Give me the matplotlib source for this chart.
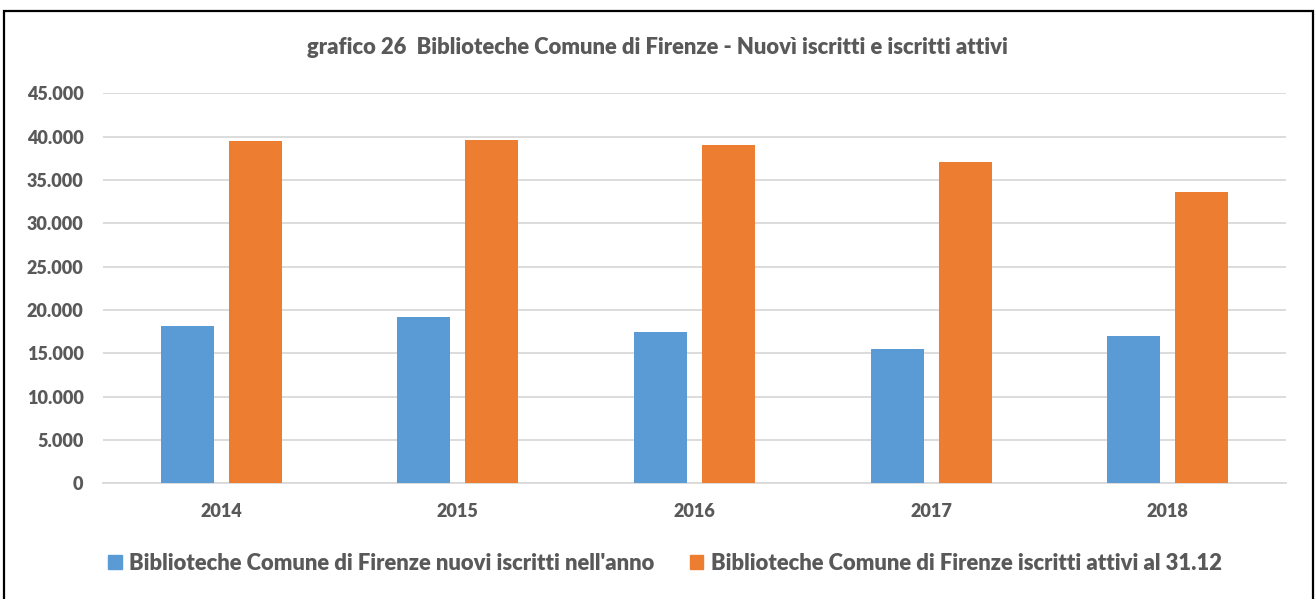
import matplotlib
matplotlib.use("Agg")
import matplotlib.pyplot as plt
from matplotlib.patches import Rectangle, Patch
from matplotlib.ticker import FuncFormatter
import numpy as np

years = ["2014", "2015", "2016", "2017", "2018"]
nuovi = [18150, 19150, 17450, 15450, 17000]
attivi = [39500, 39650, 39000, 37050, 33600]
series_names = ["Biblioteche Comune di Firenze nuovi iscritti nell'anno",
                "Biblioteche Comune di Firenze iscritti attivi al 31.12"]
title = "grafico 26  Biblioteche Comune di Firenze - Nuovì iscritti e iscritti attivi"

BLUE = "#5B9BD5"
ORANGE = "#ED7D31"
GRAY = "#595959"
GRID = "#D9D9D9"
FONT = ["Lato", "DejaVu Sans"]

W, H = 1315, 599
fig = plt.figure(figsize=(W / 100, H / 100), dpi=100)
fig.patch.set_facecolor("white")

left, right, top, bottom = 103, 1286, 93.3, 483.3
ax = fig.add_axes([left / W, 1 - bottom / H, (right - left) / W, (bottom - top) / H])

x = np.arange(len(years))
bw = 0.224
off = 0.1437
ax.bar(x - off, nuovi, bw, color=BLUE, zorder=3)
ax.bar(x + off, attivi, bw, color=ORANGE, zorder=3)

ax.set_xlim(-0.5, len(years) - 0.5)
ax.set_ylim(0, 45000)
ax.set_yticks(np.arange(0, 45001, 5000))
ax.yaxis.set_major_formatter(FuncFormatter(lambda v, p: f"{int(v):,}".replace(",", ".")))
ax.set_xticks(x)
ax.set_xticklabels(years)
ax.grid(axis="y", color=GRID, lw=1.3, zorder=0)
for s in ["top", "right", "left"]:
    ax.spines[s].set_visible(False)
ax.spines["bottom"].set_color(GRID)
ax.spines["bottom"].set_linewidth(1.3)
ax.tick_params(axis="both", length=0, colors=GRAY)
ax.tick_params(axis="y", pad=14)
ax.tick_params(axis="x", pad=14)
for lab in ax.get_yticklabels() + ax.get_xticklabels():
    lab.set_fontfamily(FONT)
    lab.set_fontweight("heavy")
    lab.set_fontsize(13)
    lab.set_color(GRAY)

fig.text(0.5, 1 - 47 / H, title, ha="center", va="center", fontsize=15.8,
         fontweight="heavy", color=GRAY, family=FONT)

handles = [Patch(color=BLUE), Patch(color=ORANGE)]
leg = fig.legend(handles, series_names, loc="center", bbox_to_anchor=(665 / W, 1 - 563 / H),
                 ncol=2, frameon=False, handlelength=0.6, handleheight=0.6,
                 handletextpad=0.35, columnspacing=1.6,
                 prop={"family": FONT, "weight": "heavy", "size": 15.8})
for t in leg.get_texts():
    t.set_color(GRAY)

fig.add_artist(Rectangle((4 / W, -0.02), (1313 - 4) / W, 1 - 11 / H + 0.02,
                         transform=fig.transFigure, fill=False, ec="black", lw=1.6))

fig.savefig("out.png", dpi=100, facecolor="white")
